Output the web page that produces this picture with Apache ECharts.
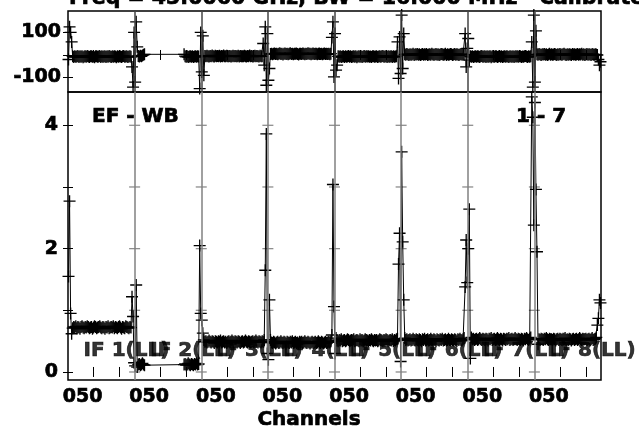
<!DOCTYPE html>
<html>
<head>
<meta charset="utf-8">
<script src="https://cdn.jsdelivr.net/npm/echarts@6/dist/echarts.min.js"></script>
<style>html,body{margin:0;padding:0;background:#fff}#c{width:639px;height:434px}</style>
</head>
<body>
<div id="c"></div>
<script>
// ---------- data ----------
const titleText = 'Freq = 43.0060 GHz, BW = 16.000 MHz   Calibrated with CL 1';
const baselineText = 'EF - WB';
const pageText = '1 - 7';
const xAxisName = 'Channels';
const xTickLabel = '050';
const ifLabels = ['IF 1(LL)','IF 2(LL)','IF 3(LL)','IF 4(LL)','IF 5(LL)','IF 6(LL)','IF 7(LL)','IF 8(LL)'];
const chansPerIF = 64;
const chanTicks = [25, 50];
const ampTickValues = [0, 1, 2, 3, 4];
const ampLabelValues = [0, 2, 4];
const phaseTickValues = [-100, 0, 100];
const phaseLabelValues = [-100, 100];

const ampIF1 = [
1.55,2.77,0.95,0.62,0.71,0.73,0.72,0.74,
0.71,0.73,0.72,0.70,0.73,0.74,0.72,0.71,
0.73,0.72,0.74,0.73,0.71,0.72,0.73,0.70,
0.72,0.74,0.73,0.71,0.72,0.73,0.74,0.72,
0.71,0.73,0.72,0.70,0.73,0.72,0.74,0.71,
0.72,0.73,0.72,0.74,0.71,0.73,0.72,0.71,
0.73,0.74,0.72,0.70,0.73,0.72,0.71,0.74,
0.73,0.72,0.71,0.73,0.72,1.22,0.90,0.15];
const ampIF2 = [
0.10,1.41,0.08,0.12,0.13,0.11,0.12,0.14,
0.12,0.11,null,null,null,null,null,null,
null,null,null,null,null,null,null,null,
null,null,null,null,null,null,null,null,
null,null,null,null,null,null,null,null,
null,null,null,null,null,null,null,0.12,
0.13,0.11,0.12,0.14,0.12,0.11,0.13,0.12,
0.11,0.13,0.12,0.14,0.12,0.13,2.05,0.95];
const ampIF3 = [
0.84,0.63,0.52,0.49,0.50,0.48,0.49,0.51,
0.49,0.48,0.50,0.49,0.47,0.50,0.49,0.48,
0.50,0.49,0.51,0.48,0.49,0.50,0.48,0.49,
0.47,0.49,0.50,0.48,0.49,0.51,0.49,0.48,
0.50,0.49,0.48,0.50,0.49,0.47,0.49,0.50,
0.48,0.49,0.51,0.49,0.48,0.50,0.49,0.48,
0.49,0.50,0.48,0.49,0.51,0.49,0.48,0.50,
0.49,0.48,0.50,0.49,0.52,1.65,3.86,0.30];
const ampIF4 = [
0.20,1.17,0.52,0.48,0.47,0.49,0.48,0.46,
0.48,0.49,0.47,0.48,0.50,0.48,0.47,0.49,
0.48,0.46,0.49,0.48,0.47,0.49,0.48,0.50,
0.47,0.48,0.49,0.47,0.48,0.46,0.49,0.48,
0.49,0.47,0.48,0.50,0.48,0.47,0.49,0.48,
0.46,0.48,0.49,0.47,0.48,0.49,0.47,0.48,
0.50,0.48,0.47,0.49,0.48,0.46,0.48,0.49,
0.47,0.48,0.49,0.48,0.50,0.60,3.04,1.06];
const ampIF5 = [
0.30,0.55,0.51,0.50,0.52,0.51,0.53,0.50,
0.51,0.52,0.50,0.51,0.53,0.52,0.50,0.51,
0.52,0.51,0.53,0.50,0.51,0.52,0.51,0.50,
0.53,0.51,0.52,0.50,0.51,0.53,0.52,0.51,
0.50,0.52,0.51,0.53,0.51,0.50,0.52,0.51,
0.52,0.50,0.51,0.53,0.52,0.51,0.50,0.52,
0.51,0.53,0.52,0.50,0.51,0.52,0.51,0.53,
0.50,0.52,0.51,0.53,0.54,1.75,2.25,0.17];
const ampIF6 = [
3.57,2.11,1.17,0.55,0.52,0.53,0.51,0.52,
0.53,0.51,0.52,0.54,0.52,0.51,0.53,0.52,
0.51,0.53,0.52,0.50,0.53,0.52,0.54,0.51,
0.52,0.53,0.51,0.52,0.54,0.52,0.51,0.53,
0.52,0.50,0.53,0.52,0.51,0.53,0.52,0.54,
0.51,0.52,0.53,0.51,0.52,0.54,0.52,0.51,
0.53,0.52,0.51,0.53,0.52,0.50,0.53,0.52,
0.54,0.52,0.51,0.53,0.55,1.38,2.14,1.45];
const ampIF7 = [
2.00,2.64,0.22,0.56,0.53,0.54,0.52,0.53,
0.54,0.52,0.53,0.55,0.53,0.52,0.54,0.53,
0.52,0.54,0.53,0.51,0.54,0.53,0.55,0.52,
0.53,0.54,0.52,0.53,0.55,0.53,0.52,0.54,
0.53,0.51,0.54,0.53,0.52,0.54,0.53,0.55,
0.52,0.53,0.54,0.52,0.53,0.55,0.53,0.52,
0.54,0.53,0.52,0.54,0.53,0.51,0.54,0.53,
0.55,0.53,0.52,0.54,0.56,4.46,4.13,2.38];
const ampIF8 = [
4.37,2.96,1.95,0.45,0.53,0.52,0.54,0.53,
0.52,0.54,0.53,0.55,0.53,0.52,0.54,0.53,
0.53,0.52,0.54,0.53,0.51,0.53,0.54,0.52,
0.54,0.53,0.52,0.54,0.53,0.55,0.52,0.53,
0.52,0.54,0.53,0.51,0.53,0.54,0.52,0.53,
0.54,0.52,0.53,0.55,0.53,0.52,0.54,0.53,
0.53,0.54,0.52,0.53,0.54,0.52,0.53,0.55,
0.52,0.53,0.54,0.56,0.76,0.87,1.17,1.12];

const phaseIF1 = [
-20,125,100,58,-6,-9,-5,-8,
-7,-4,-9,-6,-8,-5,-10,-7,
-6,-8,-4,-7,-9,-6,-5,-8,
-7,-10,-6,-5,-8,-7,-4,-9,
-6,-8,-7,-5,-9,-6,-8,-4,
-7,-9,-6,-8,-5,-7,-10,-6,
-8,-5,-7,-9,-6,-4,-8,-7,
-5,-9,-7,-6,-8,-53,-142,100];
const phaseIF2 = [
-120,147,36,-4,-7,-3,-6,-2,
1,3,null,null,null,null,null,null,
null,null,null,null,null,null,null,null,
null,null,null,null,null,null,null,null,
null,null,null,null,null,null,null,null,
null,null,null,null,null,null,null,3,
-5,-8,-6,-9,-7,-5,-8,-6,
-9,-7,-6,-8,-5,-7,-149,100];
const phaseIF3 = [
-75,85,-90,-4,-6,-3,-5,-7,
-4,-6,-2,-5,-7,-3,-6,-4,
-5,-3,-7,-4,-6,-2,-5,-6,
-3,-5,-6,-4,-7,-5,-3,-6,
-4,-6,-5,-3,-7,-4,-6,-5,
-6,-3,-5,-7,-4,-6,-2,-5,
-4,-7,-5,-3,-6,-4,-5,-7,
-3,-5,-6,51,-45,125,-134,95];
const phaseIF4 = [
-112,-60,4,6,3,5,7,4,
6,3,5,8,4,6,2,5,
7,4,5,3,6,8,4,5,
3,6,5,7,4,2,6,5,
4,7,5,3,6,4,8,5,
6,3,5,7,4,6,5,3,
5,7,4,6,3,5,7,4,
6,4,5,3,6,78,147,-97];
const phaseIF5 = [
95,-67,-45,-6,-8,-5,-9,-7,
-6,-9,-5,-8,-7,-4,-8,-6,
-9,-7,-5,-8,-6,-10,-7,-5,
-8,-6,-9,-7,-4,-8,-6,-7,
-5,-8,-7,-9,-6,-5,-8,-7,
-6,-9,-7,-5,-8,-6,-4,-8,
-7,-5,-9,-6,-8,-7,-5,-9,
-6,-8,-7,-5,58,-104,80,-82];
const phaseIF6 = [
177,-60,95,3,1,4,2,0,
3,1,2,5,0,3,2,4,
1,3,0,2,4,1,3,2,
4,0,2,3,1,5,2,1,
2,4,1,3,0,2,4,3,
1,2,5,0,3,1,2,4,
3,0,2,4,1,3,2,0,
2,4,1,3,2,95,-53,29];
const phaseIF7 = [
73,-23,-6,-8,-5,-9,-7,-6,
-8,-5,-7,-9,-6,-4,-8,-7,
-5,-9,-6,-8,-7,-5,-10,-6,
-7,-8,-5,-6,-9,-7,-4,-8,
-6,-9,-7,-5,-8,-6,-7,-9,
-5,-7,-8,-6,-9,-5,-7,-6,
-8,-6,-5,-9,-7,-8,-6,-4,
-7,-9,-6,-8,-5,58,-142,177];
const phaseIF8 = [
-120,107,3,1,4,2,0,3,
2,4,1,3,0,2,5,1,
3,1,2,4,2,0,3,1,
4,2,1,3,5,2,0,3,
1,3,2,0,4,2,3,1,
2,4,1,3,2,5,1,3,
0,2,4,1,3,2,0,4,
2,1,3,2,0,-20,-45,-30];

const ampByIF = [ampIF1, ampIF2, ampIF3, ampIF4, ampIF5, ampIF6, ampIF7, ampIF8];
const phaseByIF = [phaseIF1, phaseIF2, phaseIF3, phaseIF4, phaseIF5, phaseIF6, phaseIF7, phaseIF8];

// ---------- build ----------
const ifCount = ampByIF.length;
const xMax = ifCount * chansPerIF;
function toPairs(byIF) {
  const out = [];
  byIF.forEach((arr, k) => arr.forEach((v, i) => {
    if (v !== null) out.push([k * chansPerIF + i + 0.5, v]);
  }));
  return out;
}
const ampData = toPairs(ampByIF);
const phaseData = toPairs(phaseByIF);
const boundaries = [];
for (let k = 1; k < ifCount; k++) boundaries.push(k * chansPerIF);
const xTickVals = [];
const xLabelVals = [];
for (let k = 0; k < ifCount; k++) {
  chanTicks.forEach(c => xTickVals.push(k * chansPerIF + c - 0.5));
  xLabelVals.push(k * chansPerIF + 14);
}
const boundaryTicks = [];
boundaries.forEach(b => ampTickValues.forEach(v => boundaryTicks.push([b, v])));
const ifLabelData = ifLabels.map((t, k) => [k * chansPerIF + 15, 0.34]);

const FONT = 'DejaVu Sans';
const STROKE = { textBorderColor: '#000', textBorderWidth: 0.7 };
const cross = 'path://M0,4.45H10V5.55H0Z M4.45,0H5.55V10H4.45Z';
const tick = (vals) => ({ show: true, inside: true, length: 5, customValues: vals, lineStyle: { color: '#000', width: 1 } });
const lbl = (vals, margin, extra) => Object.assign({ show: true, customValues: vals, color: '#000', fontFamily: FONT, fontWeight: 'bold', fontSize: 19, margin: margin }, STROKE, extra || {});

const chart = echarts.init(document.getElementById('c'), null, { renderer: 'canvas', width: 639, height: 434 });
chart.setOption({
  animation: false,
  backgroundColor: '#fff',
  grid: [
    { left: 68, right: 38, top: 11, height: 81, show: true, borderColor: '#000', borderWidth: 1.5, backgroundColor: 'transparent' },
    { left: 68, right: 38, top: 92, height: 288, show: true, borderColor: '#000', borderWidth: 1.5, backgroundColor: 'transparent' }
  ],
  xAxis: [
    { type: 'value', gridIndex: 0, position: 'bottom', min: 0, max: xMax, axisLine: { show: false }, splitLine: { show: false }, axisTick: tick(xTickVals), axisLabel: { show: false } },
    { type: 'value', gridIndex: 0, position: 'top', min: 0, max: xMax, axisLine: { show: false }, splitLine: { show: false }, axisTick: tick(xTickVals), axisLabel: { show: false } },
    { type: 'value', gridIndex: 1, position: 'bottom', min: 0, max: xMax, axisLine: { show: false }, splitLine: { show: false }, axisTick: tick(xTickVals),
      axisLabel: lbl(xLabelVals, 8, { formatter: () => xTickLabel }) },
    { type: 'value', gridIndex: 1, position: 'top', min: 0, max: xMax, axisLine: { show: false }, splitLine: { show: false }, axisTick: tick(xTickVals), axisLabel: { show: false } }
  ],
  yAxis: [
    { type: 'value', gridIndex: 0, position: 'left', min: -164, max: 195, axisLine: { show: false }, splitLine: { show: false }, axisTick: tick(phaseTickValues), axisLabel: lbl(phaseLabelValues, 7) },
    { type: 'value', gridIndex: 0, position: 'right', min: -164, max: 195, axisLine: { show: false }, splitLine: { show: false }, axisTick: tick(phaseTickValues), axisLabel: { show: false } },
    { type: 'value', gridIndex: 1, position: 'left', min: -0.13, max: 4.54, axisLine: { show: false }, splitLine: { show: false }, axisTick: tick(ampTickValues), axisLabel: lbl(ampLabelValues, 10) },
    { type: 'value', gridIndex: 1, position: 'right', min: -0.13, max: 4.54, axisLine: { show: false }, splitLine: { show: false }, axisTick: tick(ampTickValues), axisLabel: { show: false } }
  ],
  series: [
    { type: 'line', xAxisIndex: 0, yAxisIndex: 0, data: [], z: 1, silent: true,
      markLine: { silent: true, symbol: ['none', 'none'], label: { show: false }, lineStyle: { color: '#444', width: 1.5, type: 'solid' }, data: boundaries.map(b => ({ xAxis: b })) } },
    { type: 'line', xAxisIndex: 2, yAxisIndex: 2, data: [], z: 1, silent: true,
      markLine: { silent: true, symbol: ['none', 'none'], label: { show: false }, lineStyle: { color: '#808080', width: 1.5, type: 'solid' }, data: boundaries.map(b => ({ xAxis: b })) } },
    { type: 'scatter', xAxisIndex: 2, yAxisIndex: 2, data: boundaryTicks, symbol: 'rect', symbolSize: [11, 1.3], itemStyle: { color: '#707070' }, z: 1, silent: true },
    { type: 'line', xAxisIndex: 0, yAxisIndex: 0, data: phaseData, z: 3, connectNulls: true, showSymbol: true, showAllSymbol: true,
      symbol: cross, symbolSize: 12, itemStyle: { color: '#000' }, lineStyle: { color: '#000', width: 1 } },
    { type: 'line', xAxisIndex: 2, yAxisIndex: 2, data: ampData, z: 3, connectNulls: true, showSymbol: true, showAllSymbol: true,
      symbol: cross, symbolSize: 12, itemStyle: { color: '#000' }, lineStyle: { color: '#000', width: 1 } },
    { type: 'scatter', xAxisIndex: 2, yAxisIndex: 2, data: ifLabelData, symbolSize: 0, z: 5, silent: true,
      label: Object.assign({ show: true, position: 'right', distance: 0, color: '#000', fontFamily: FONT, fontWeight: 'bold', fontSize: 20,
        formatter: p => ifLabels[p.dataIndex] }, STROKE) }
  ],
  graphic: [
    { type: 'text', x: 69, y: -1.5, style: { text: titleText, fill: '#000', font: 'bold 20.5px "DejaVu Sans"', verticalAlign: 'middle', stroke: '#000', lineWidth: 0.7 }, z: 10 },
    { type: 'text', x: 92, y: 117, style: { text: baselineText, fill: '#000', font: 'bold 20px "DejaVu Sans"', verticalAlign: 'middle', stroke: '#000', lineWidth: 0.7 }, z: 10 },
    { type: 'text', x: 516, y: 116.5, style: { text: pageText, fill: '#000', font: 'bold 20px "DejaVu Sans"', verticalAlign: 'middle', stroke: '#000', lineWidth: 0.7 }, z: 10 },
    { type: 'text', x: 309, y: 419.5, style: { text: xAxisName, fill: '#000', font: 'bold 20px "DejaVu Sans"', align: 'center', verticalAlign: 'middle', stroke: '#000', lineWidth: 0.7 }, z: 10 }
  ]
});
</script>
</body>
</html>
